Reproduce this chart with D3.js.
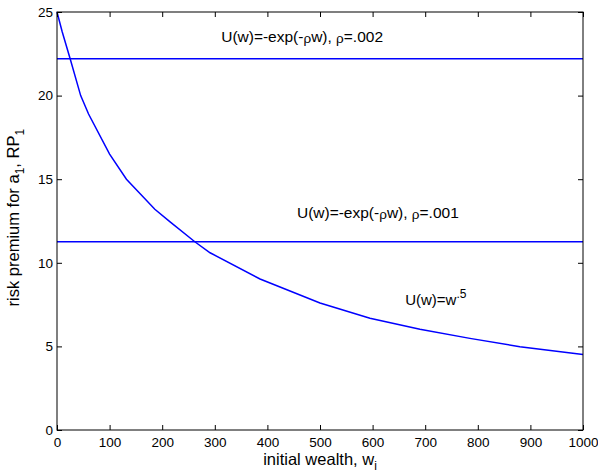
<!DOCTYPE html>
<html>
<head>
<meta charset="utf-8">
<script src="https://cdn.jsdelivr.net/npm/d3@7"></script>
<style>
  html, body { margin: 0; padding: 0; background: #fff; }
  svg { display: block; font-family: "Liberation Sans", Arial, sans-serif; }
</style>
</head>
<body>
<script>
// ---- data ----
const wealth = [0, 10, 25, 45, 60, 100, 132, 186, 215, 262, 291, 386, 500, 595, 690, 785, 880, 1000];
const rpSqrt = [25, 23.8, 22.2, 20, 18.9, 16.5, 15, 13.2, 12.45, 11.26, 10.6, 9.03, 7.6, 6.68, 6.02, 5.48, 4.98, 4.52];
const rpExp002 = 22.2;
const rpExp001 = 11.26;
const xTicks = [0, 100, 200, 300, 400, 500, 600, 700, 800, 900, 1000];
const yTicks = [0, 5, 10, 15, 20, 25];

const W = 598, H = 474;
const margin = { left: 57, right: 15, top: 12, bottom: 44 };

const svg = d3.select("body").append("svg").attr("width", W).attr("height", H);
const x = d3.scaleLinear().domain([0, 1000]).range([margin.left, W - margin.right]);
const y = d3.scaleLinear().domain([0, 25]).range([H - margin.bottom, margin.top]);

const x0 = x.range()[0], x1 = x.range()[1], y0 = y.range()[0], y1 = y.range()[1];

// curves
const line = d3.line().x(d => x(d[0])).y(d => y(d[1]));
const blue = "#0000ff";
svg.append("path").datum(wealth.map((w, i) => [w, rpSqrt[i]]))
  .attr("d", line).attr("fill", "none").attr("stroke", blue).attr("stroke-width", 1.5);
[rpExp002, rpExp001].forEach(v => {
  svg.append("path").datum([[0, v], [1000, v]])
    .attr("d", line).attr("fill", "none").attr("stroke", blue).attr("stroke-width", 1.5);
});

// axes (inward ticks)
const tl = 5;
const axB = d3.axisBottom(x).tickValues(xTicks).tickSizeInner(-tl).tickSizeOuter(0).tickPadding(7).tickFormat(d3.format("d"));
const axT = d3.axisTop(x).tickValues(xTicks).tickSizeInner(-tl).tickSizeOuter(0).tickFormat("");
const axL = d3.axisLeft(y).tickValues(yTicks).tickSizeInner(-tl).tickSizeOuter(0).tickPadding(4).tickFormat(d3.format("d"));
const axR = d3.axisRight(y).tickValues(yTicks).tickSizeInner(-tl).tickSizeOuter(0).tickFormat("");

function style(g) {
  g.select(".domain").remove();
  g.selectAll("line").attr("stroke", "#000");
  g.selectAll("text").attr("fill", "#000").style("font-size", "13.5px").style("font-family", "'Liberation Sans', Arial, sans-serif");
}
svg.append("g").attr("transform", `translate(0,${y0})`).call(axB).call(style);
svg.append("g").attr("transform", `translate(0,${y1})`).call(axT).call(style);
svg.append("g").attr("transform", `translate(${x0},0)`).call(axL).call(style);
svg.append("g").attr("transform", `translate(${x1},0)`).call(axR).call(style);

// frame
svg.append("rect").attr("x", x0).attr("y", y1).attr("width", x1 - x0).attr("height", y0 - y1)
  .attr("fill", "none").attr("stroke", "#000").attr("stroke-width", 1);

// annotations
function expLabel(cx, cy, rho, fs) {
  const t = svg.append("text").attr("x", cx).attr("y", cy).attr("text-anchor", "middle")
    .style("font-size", fs + "px").attr("fill", "#000");
  t.append("tspan").text("U(w)=-exp(-");
  t.append("tspan").text("ρ").style("font-size", (fs - 2) + "px").attr("dy", 1);
  t.append("tspan").text("w), ").attr("dy", -1);
  t.append("tspan").text("ρ").style("font-size", (fs - 2) + "px").attr("dy", 1);
  t.append("tspan").text("=" + rho).attr("dy", -1);
}
expLabel(x(466), y(23.2), ".002", 15.5);
expLabel(x(610), y(12.68), ".001", 15.5);

const t3 = svg.append("text").attr("x", x(662)).attr("y", y(7.48)).attr("text-anchor", "start")
  .style("font-size", "15px").attr("fill", "#000");
t3.append("tspan").text("U(w)=w");
t3.append("tspan").text(".5").style("font-size", "12px").attr("dy", -7);

// axis labels
const xl = svg.append("text").attr("x", x(500)).attr("y", 465).attr("text-anchor", "middle")
  .style("font-size", "16.5px").attr("fill", "#000");
xl.append("tspan").text("initial wealth, w");
xl.append("tspan").text("i").style("font-size", "12px").attr("dy", 5);

const yl = svg.append("text").attr("transform", `translate(19,${y(12.7)}) rotate(-90)`)
  .attr("text-anchor", "middle").style("font-size", "16.5px").attr("fill", "#000");
yl.append("tspan").text("risk premium for a");
yl.append("tspan").text("1").style("font-size", "12px").attr("dy", 5);
yl.append("tspan").text(", RP").attr("dy", -5);
yl.append("tspan").text("1").style("font-size", "12px").attr("dy", 5);
</script>
</body>
</html>
